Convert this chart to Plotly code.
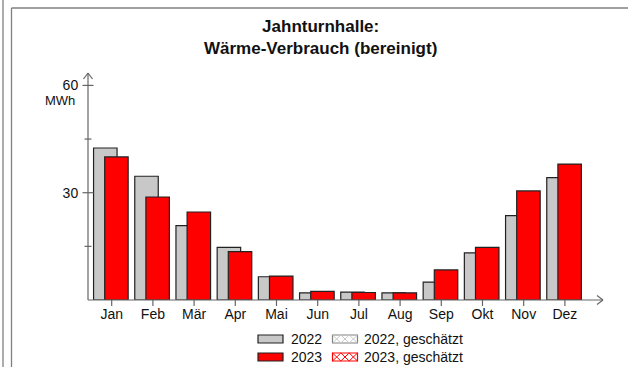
import plotly.graph_objects as go

months = ["Jan", "Feb", "Mär", "Apr", "Mai", "Jun", "Jul", "Aug", "Sep", "Okt", "Nov", "Dez"]
values_2022 = [42.5, 34.6, 20.8, 14.7, 6.5, 2.0, 2.2, 2.0, 5.0, 13.2, 23.6, 34.2]
values_2023 = [40.0, 28.8, 24.6, 13.5, 6.7, 2.4, 2.1, 2.0, 8.4, 14.7, 30.5, 38.0]
ytick_vals = [30, 60]
ytick_minor = [15, 45]

W, H = 628, 367
L, R, T, B = 88, 25, 73, 67
PW, PH = W - L - R, H - T - B
FONT = "Liberation Sans, Arial, sans-serif"
AXC = "#666666"
EDGE = "#222222"


def px(x):
    return (x - L) / PW


def py(y):
    return (H - B - y) / PH


x_idx = list(range(len(months)))

fig = go.Figure()
fig.add_trace(go.Bar(x=x_idx, y=values_2022, width=0.57, offset=-0.44,
                     marker=dict(color="#c8c8c8", line=dict(color=EDGE, width=1.2)),
                     showlegend=False))
fig.add_trace(go.Bar(x=x_idx, y=values_2023, width=0.57, offset=-0.17,
                     marker=dict(color="#ff0000", line=dict(color=EDGE, width=1.2)),
                     showlegend=False))

shapes = []
# frame lines
for (x0, y0, x1, y1) in [(3, 0, 3, H), (11.5, 8, 11.5, H), (11.5, 8, W, 8)]:
    shapes.append(dict(type="line", xref="paper", yref="paper", x0=px(x0), y0=py(y0),
                       x1=px(x1), y1=py(y1), line=dict(color="#808080", width=1.3), layer="above"))
# axes lines with arrows
ax_lines = [(88, 300, 88, 73), (88, 300, 603, 300),
            (83.5, 79, 88, 73), (92.5, 79, 88, 73),
            (597, 295.5, 603, 300), (597, 304.5, 603, 300)]
for (x0, y0, x1, y1) in ax_lines:
    shapes.append(dict(type="line", xref="paper", yref="paper", x0=px(x0), y0=py(y0),
                       x1=px(x1), y1=py(y1), line=dict(color=AXC, width=1.2), layer="above"))
# y ticks (crossing axis)
for v in ytick_vals:
    shapes.append(dict(type="line", xref="paper", yref="y", xsizemode="pixel", xanchor=0,
                       x0=-5.5, x1=5.5, y0=v, y1=v, line=dict(color=AXC, width=1.2)))
for v in ytick_minor:
    shapes.append(dict(type="line", xref="paper", yref="y", xsizemode="pixel", xanchor=0,
                       x0=-3.5, x1=3.5, y0=v, y1=v, line=dict(color=AXC, width=1.2)))
# x ticks (below axis)
for i in x_idx:
    shapes.append(dict(type="line", xref="x", yref="paper", ysizemode="pixel", yanchor=0,
                       x0=i, x1=i, y0=0, y1=-6, line=dict(color=AXC, width=1.2)))

# legend swatches
legend_rows = [
    (339, "#c8c8c8", EDGE, "2022", "#808080", "2022, geschätzt", "#c8c8c8"),
    (357, "#ff0000", EDGE, "2023", "#ff0000", "2023, geschätzt", "#ff0000"),
]
annotations = []
for (cy, fill, edge, label, hedge, hlabel, hcol) in legend_rows:
    shapes.append(dict(type="rect", xref="paper", yref="paper", x0=px(258), x1=px(283),
                       y0=py(cy - 4), y1=py(cy + 4), fillcolor=fill,
                       line=dict(color=edge, width=1.2)))
    annotations.append(dict(x=px(289), y=py(cy), xref="paper", yref="paper", text=label,
                            showarrow=False, xanchor="left", yanchor="middle",
                            font=dict(size=14, color="#111", family=FONT)))
    # hatched swatch
    x0s, x1s = 332.5, 357.5
    shapes.append(dict(type="rect", xref="paper", yref="paper", x0=px(x0s), x1=px(x1s),
                       y0=py(cy - 4), y1=py(cy + 4), fillcolor="white",
                       line=dict(color=hedge, width=1.2)))
    cw = (x1s - x0s) / 3
    for k in range(3):
        a = x0s + k * cw
        b = a + cw
        for (ya, yb) in [(cy - 4, cy + 4), (cy + 4, cy - 4)]:
            shapes.append(dict(type="line", xref="paper", yref="paper", x0=px(a), x1=px(b),
                               y0=py(ya), y1=py(yb), line=dict(color=hcol, width=1)))
    annotations.append(dict(x=px(362), y=py(cy), xref="paper", yref="paper", text=hlabel,
                            showarrow=False, xanchor="left", yanchor="middle",
                            font=dict(size=14, color="#111", family=FONT)))

annotations.append(dict(x=px(320), y=py(38), xref="paper", yref="paper",
                        text="<b>Jahnturnhalle:</b><br><b>Wärme-Verbrauch (bereinigt)</b>",
                        showarrow=False, xanchor="center", yanchor="middle",
                        font=dict(size=17, color="#111", family=FONT)))
annotations.append(dict(x=px(60), y=py(100), xref="paper", yref="paper", text="MWh",
                        showarrow=False, xanchor="center", yanchor="middle",
                        font=dict(size=13, color="#111", family=FONT)))

fig.update_layout(
    width=W, height=H,
    margin=dict(l=L, r=R, t=T, b=B, pad=0),
    paper_bgcolor="white", plot_bgcolor="white",
    barmode="overlay",
    showlegend=False,
    shapes=shapes,
    annotations=annotations,
    font=dict(family=FONT, size=14, color="#111"),
    xaxis=dict(range=[-0.575, 11.925], tickvals=x_idx, ticktext=months,
               ticks="outside", ticklen=1, tickcolor="rgba(0,0,0,0)",
               showgrid=False, zeroline=False, showline=False,
               tickfont=dict(size=14, color="#111", family=FONT), fixedrange=True),
    yaxis=dict(range=[0, 63.47], tickvals=ytick_vals, ticktext=[str(v) for v in ytick_vals],
               ticks="outside", ticklen=6, tickcolor="rgba(0,0,0,0)",
               showgrid=False, zeroline=False, showline=False,
               tickfont=dict(size=14, color="#111", family=FONT), fixedrange=True),
)

fig.write_html("out.html", config={"displayModeBar": False},
               post_script="document.body.style.margin='0';document.body.style.overflow='hidden';")
